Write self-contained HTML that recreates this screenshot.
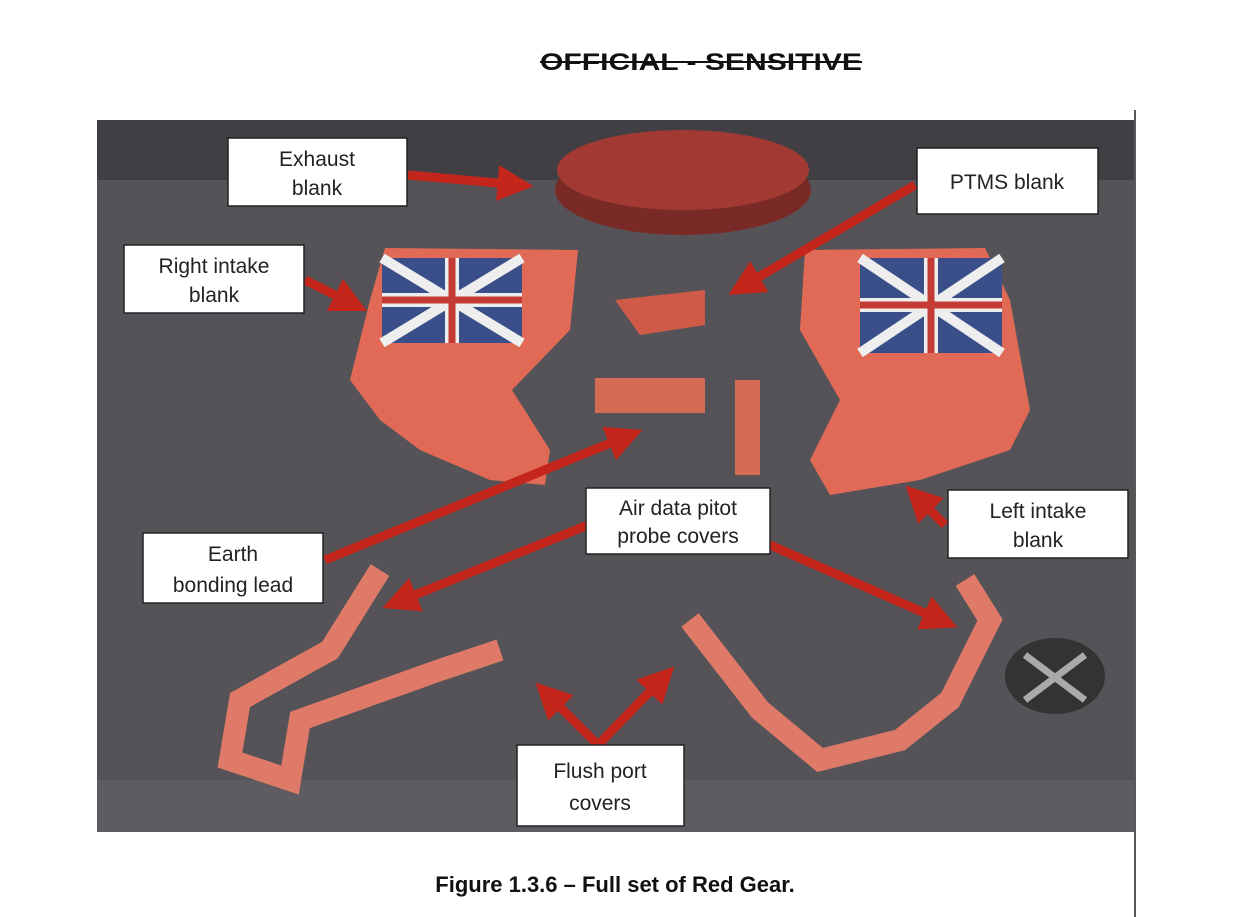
<!DOCTYPE html>
<html><head><meta charset="utf-8"><style>
html,body{margin:0;padding:0;background:#fff;width:1252px;height:917px;overflow:hidden}
svg{position:absolute;left:0;top:0}
</style></head><body>
<svg width="1252" height="917" viewBox="0 0 1252 917" xmlns="http://www.w3.org/2000/svg" font-family="Liberation Sans, sans-serif">
<defs>
<marker id="ah" markerWidth="4" markerHeight="4" refX="2.5" refY="2" orient="auto"><path d="M0,0 L4,2 L0,4 z" fill="#c4261c"/></marker>
</defs>
<text x="540" y="70" font-size="24" font-weight="bold" fill="#111" textLength="322" lengthAdjust="spacingAndGlyphs">OFFICIAL - SENSITIVE</text>
<line x1="540" y1="62" x2="862" y2="62" stroke="#111" stroke-width="2"/>
<line x1="1135" y1="110" x2="1135" y2="917" stroke="#222" stroke-width="1.5"/>
<rect x="97" y="120" width="1037" height="712" fill="#555357"/>
<rect x="97" y="120" width="1037" height="60" fill="#423f44"/>
<rect x="97" y="780" width="1037" height="52" fill="#5e5c60"/>
<ellipse cx="683" cy="190" rx="128" ry="45" fill="#7a2a26"/>
<ellipse cx="683" cy="170" rx="126" ry="40" fill="#a23a33"/>
<path d="M385,248 L578,250 L570,330 L512,390 L550,450 L545,485 L490,480 L420,450 L380,420 L350,380 L370,300 z" fill="#e06a55"/>
<rect x="382" y="258" width="140" height="85" fill="#3a4f8a"/>
<path d="M382,258 L522,343 M522,258 L382,343" stroke="#eee" stroke-width="10"/>
<path d="M452,258 V343 M382,300 H522" stroke="#eee" stroke-width="14"/>
<path d="M452,258 V343 M382,300 H522" stroke="#c43a35" stroke-width="7"/>
<path d="M805,250 L985,248 L1010,300 L1030,410 L1010,450 L920,480 L830,495 L810,460 L840,400 L800,330 z" fill="#e06a55"/>
<rect x="860" y="258" width="142" height="95" fill="#3a4f8a"/>
<path d="M860,258 L1002,353 M1002,258 L860,353" stroke="#eee" stroke-width="10"/>
<path d="M931,258 V353 M860,305 H1002" stroke="#eee" stroke-width="14"/>
<path d="M931,258 V353 M860,305 H1002" stroke="#c43a35" stroke-width="7"/>
<path d="M615,300 L705,290 L705,325 L640,335 z" fill="#d05a48"/>
<rect x="595" y="378" width="110" height="35" fill="#d56a55"/>
<rect x="735" y="380" width="25" height="95" fill="#d56a55"/>
<path d="M380,570 L330,650 L240,700 L230,760 L290,780 L300,720 L440,670 L500,650" fill="none" stroke="#e07a68" stroke-width="22"/>
<path d="M690,620 L760,710 L820,760 L900,740 L950,700 L990,620 L965,580" fill="none" stroke="#e07a68" stroke-width="22"/>
<ellipse cx="1055" cy="676" rx="50" ry="38" fill="#333"/>
<path d="M1025,655 L1085,700 M1085,655 L1025,700" stroke="#aaa" stroke-width="7"/>
<g stroke="#c4261c" stroke-width="9" fill="none" marker-end="url(#ah)">
<line x1="408" y1="175" x2="520" y2="185"/>
<line x1="915" y1="185" x2="740" y2="288"/>
<line x1="305" y1="280" x2="355" y2="305"/>
<line x1="945" y1="525" x2="915" y2="495"/>
<line x1="325" y1="560" x2="630" y2="435"/>
<line x1="588" y1="525" x2="395" y2="603"/>
<line x1="770" y1="545" x2="945" y2="622"/>
<line x1="598" y1="745" x2="545" y2="692"/>
<line x1="598" y1="745" x2="665" y2="676"/>
</g>
<g fill="#fff" stroke="#222" stroke-width="1.5">
<rect x="228" y="138" width="179" height="68"/>
<rect x="917" y="148" width="181" height="66"/>
<rect x="124" y="245" width="180" height="68"/>
<rect x="948" y="490" width="180" height="68"/>
<rect x="586" y="488" width="184" height="66"/>
<rect x="143" y="533" width="180" height="70"/>
<rect x="517" y="745" width="167" height="81"/>
</g>
<g font-size="21" fill="#222" text-anchor="middle">
<text x="317" y="166">Exhaust</text><text x="317" y="195">blank</text>
<text x="1007" y="189">PTMS blank</text>
<text x="214" y="273">Right intake</text><text x="214" y="302">blank</text>
<text x="1038" y="518">Left intake</text><text x="1038" y="547">blank</text>
<text x="678" y="515">Air data pitot</text><text x="678" y="543">probe covers</text>
<text x="233" y="561">Earth</text><text x="233" y="592">bonding lead</text>
<text x="600" y="778">Flush port</text><text x="600" y="810">covers</text>
</g>
<text x="615" y="892" text-anchor="middle" font-size="22" font-weight="bold" fill="#111">Figure 1.3.6 – Full set of Red Gear.</text>
</svg>
</body></html>
